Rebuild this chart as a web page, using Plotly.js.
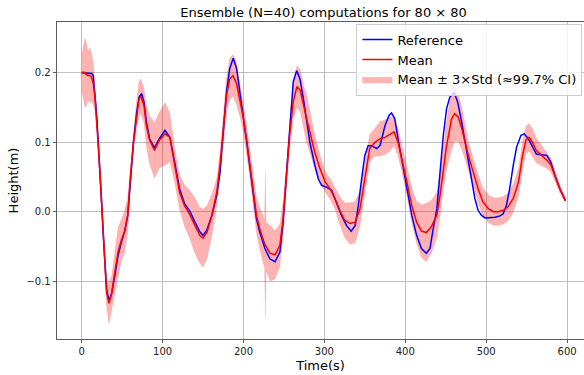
<!DOCTYPE html>
<html>
<head>
<meta charset="utf-8">
<script src="https://cdn.plot.ly/plotly-3.0.1.min.js"></script>
<style>html,body{margin:0;padding:0;background:#fff;}#chart{width:584px;height:375px;}</style>
</head>
<body>
<div id="chart"></div>
<script>
// Reference solution
const tRef = [0,5,10,12.4,14.3,16.4,18.5,20.5,22.6,24.6,26.7,28.7,30.8,33.7,37,41,45,49,53,57,60,64,68,71,74,77,80,84,90,96,103,109,115,121,127,134,140,146,150,154.5,161,167,171,175,179,183,187.4,191.5,195.6,200,204,208,212,216,220,226.5,232.7,239,245,249,253,257.4,261.5,265.7,269.8,274,278,282,288,292.5,296.6,303,309,315,321,327.5,333,338,342,346,350,354,358.5,364.6,368.7,375,380,383,387,391,396,402,408,414,420,426,430.5,434.6,439,443,447,451,455,460.6,464.7,469.7,474,478,482,486,490,494,498.5,505,511,517,521,525,529,533.5,537.6,543,547,552,557,562,568.5,575,580,585,591,598];
const refVals = [0.200,0.200,0.200,0.199,0.196,0.172,0.139,0.100,0.062,0.014,-0.034,-0.077,-0.111,-0.128,-0.118,-0.092,-0.063,-0.044,-0.029,-0.005,0.043,0.100,0.143,0.165,0.170,0.158,0.129,0.105,0.092,0.105,0.117,0.107,0.071,0.033,0.012,0.000,-0.015,-0.029,-0.034,-0.027,-0.005,0.024,0.057,0.115,0.172,0.206,0.221,0.206,0.167,0.134,0.100,0.062,0.024,-0.010,-0.029,-0.053,-0.068,-0.072,-0.058,-0.015,0.052,0.129,0.187,0.203,0.191,0.163,0.129,0.100,0.068,0.047,0.038,0.035,0.031,0.014,-0.005,-0.020,-0.028,-0.020,0.009,0.047,0.081,0.095,0.095,0.091,0.095,0.124,0.139,0.142,0.134,0.105,0.071,0.033,-0.005,-0.034,-0.053,-0.060,-0.053,-0.024,0.004,0.057,0.110,0.148,0.165,0.171,0.158,0.129,0.100,0.071,0.043,0.019,0.002,-0.005,-0.009,-0.009,-0.008,-0.006,-0.003,0.009,0.033,0.067,0.093,0.110,0.112,0.105,0.093,0.083,0.082,0.081,0.071,0.052,0.033,0.016];

// Ensemble mean and 3*std half-width
const tMean = [0,2,4,6,8,10,12,14.4,16.4,18.5,20.5,22.6,24.6,26.7,28.7,30.8,33.7,37,41,45,49,53,57,60,64,68,71,73,77,80,84,90,96,103,109,115,121,127,134,140,146,150,155,161,167,171,175,179,183,187,191.5,196,200,204,208,212,216,220,224,226,227,228,233,239,245,249,253,257,261.5,266,270,274,278,282,288,294.5,301,307,313,319,325,331.6,338,344,350,356,362.5,369,375,381,386,391,396,402,408,414,420,426,432,439,443,447,451,455,457,461,465.5,470,474,478,484,490,496,503,509,515,521,527,533.5,540,545,549,553,557,562,568.5,575,580,585,591,598];
const meanVals = [0.200,0.201,0.200,0.197,0.196,0.196,0.194,0.184,0.165,0.134,0.095,0.057,0.014,-0.034,-0.082,-0.116,-0.132,-0.118,-0.087,-0.058,-0.041,-0.029,-0.005,0.047,0.100,0.141,0.163,0.166,0.153,0.124,0.103,0.088,0.103,0.112,0.107,0.067,0.028,0.009,-0.005,-0.020,-0.034,-0.038,-0.029,-0.005,0.028,0.067,0.119,0.167,0.191,0.196,0.184,0.160,0.134,0.103,0.067,0.028,-0.005,-0.024,-0.040,-0.046,-0.048,-0.050,-0.060,-0.062,-0.048,-0.010,0.047,0.110,0.158,0.180,0.175,0.153,0.134,0.115,0.086,0.062,0.043,0.033,0.019,0.002,-0.012,-0.017,-0.015,0.004,0.047,0.091,0.100,0.105,0.107,0.112,0.115,0.100,0.076,0.043,0.009,-0.015,-0.028,-0.030,-0.022,-0.005,0.024,0.062,0.095,0.119,0.133,0.141,0.136,0.119,0.100,0.081,0.057,0.033,0.014,0.004,0.000,0.000,0.002,0.007,0.019,0.043,0.081,0.103,0.107,0.100,0.088,0.081,0.074,0.067,0.052,0.033,0.016];
const std3 = [0.025,0.040,0.050,0.045,0.035,0.040,0.035,0.030,0.020,0.015,0.015,0.015,0.015,0.015,0.015,0.020,0.030,0.025,0.030,0.035,0.030,0.030,0.025,0.020,0.015,0.020,0.025,0.025,0.025,0.030,0.035,0.040,0.040,0.045,0.035,0.025,0.025,0.030,0.035,0.040,0.040,0.042,0.038,0.030,0.020,0.020,0.020,0.025,0.030,0.030,0.030,0.025,0.020,0.020,0.020,0.020,0.025,0.030,0.035,0.035,0.105,0.035,0.040,0.035,0.030,0.025,0.020,0.020,0.025,0.030,0.030,0.030,0.035,0.030,0.025,0.020,0.015,0.015,0.015,0.020,0.025,0.030,0.030,0.025,0.020,0.020,0.020,0.025,0.025,0.025,0.020,0.020,0.020,0.020,0.025,0.030,0.038,0.042,0.038,0.033,0.030,0.030,0.035,0.040,0.045,0.040,0.035,0.030,0.025,0.020,0.020,0.020,0.020,0.020,0.020,0.020,0.020,0.020,0.020,0.020,0.020,0.020,0.020,0.020,0.018,0.015,0.012,0.010,0.008,0.006,0.004];

const xTicks = [0,100,200,300,400,500,600];
const yTicks = [-0.1,0.0,0.1,0.2];

const upper = meanVals.map((m,i)=>m+std3[i]);
const lower = meanVals.map((m,i)=>m-std3[i]);

const bandCol = 'rgba(255,0,0,0.3)';
const traces = [
  {x:tMean, y:lower, mode:'lines', line:{color:'rgba(255,0,0,0.15)', width:0.5}, showlegend:false, hoverinfo:'skip'},
  {x:tMean, y:upper, mode:'lines', fill:'tonexty', fillcolor:bandCol, line:{color:'rgba(255,0,0,0.15)', width:0.5},
   name:'Mean ± 3×Std (≈99.7% CI)', legendrank:3},
  {x:tRef, y:refVals, mode:'lines', line:{color:'#0000ff', width:1.5}, name:'Reference', legendrank:1},
  {x:tMean, y:meanVals, mode:'lines', line:{color:'#ff0000', width:1.5}, name:'Mean', legendrank:2}
];

const font = {family:'DejaVu Sans, sans-serif', color:'#000'};
const layout = {
  width:584, height:375,
  margin:{l:57, r:0, t:22, b:36},
  paper_bgcolor:'#fff', plot_bgcolor:'#fff',
  font:font,
  title:{text:'Ensemble (N=40) computations for 80 × 80', font:{family:font.family, size:13, color:'#000'},
         xref:'container', x:0.554, xanchor:'center', yref:'container', y:0.968, yanchor:'middle'},
  xaxis:{range:[-30.5,620.9], tickvals:xTicks, ticks:'outside', ticklen:3.5, tickcolor:'#333', tickwidth:0.8,
         showgrid:true, gridcolor:'#b0b0b0', gridwidth:0.8, zeroline:false,
         showline:true, mirror:true, linecolor:'#333', linewidth:0.8,
         tickfont:{size:10, color:'#222'},
         title:{text:'Time(s)', font:{size:13, color:'#000'}, standoff:4}},
  yaxis:{range:[-0.1832,0.273], tickvals:yTicks, tickformat:'.1f', ticks:'outside', ticklen:3.5, tickcolor:'#333', tickwidth:0.8,
         showgrid:true, gridcolor:'#b0b0b0', gridwidth:0.8, zeroline:false,
         showline:true, linecolor:'#333', linewidth:0.8,
         tickfont:{size:10, color:'#222'},
         title:{text:'Height(m)', font:{size:13, color:'#000'}, standoff:4}},
  legend:{x:0.997, xanchor:'right', y:0.995, yanchor:'top', bgcolor:'rgba(255,255,255,0.8)',
          bordercolor:'#cccccc', borderwidth:1, font:{size:13, color:'#000'}, traceorder:'normal', tracegroupgap:0},
  showlegend:true
};
Plotly.newPlot('chart', traces, layout, {displayModeBar:false, staticPlot:true});
</script>
</body>
</html>
